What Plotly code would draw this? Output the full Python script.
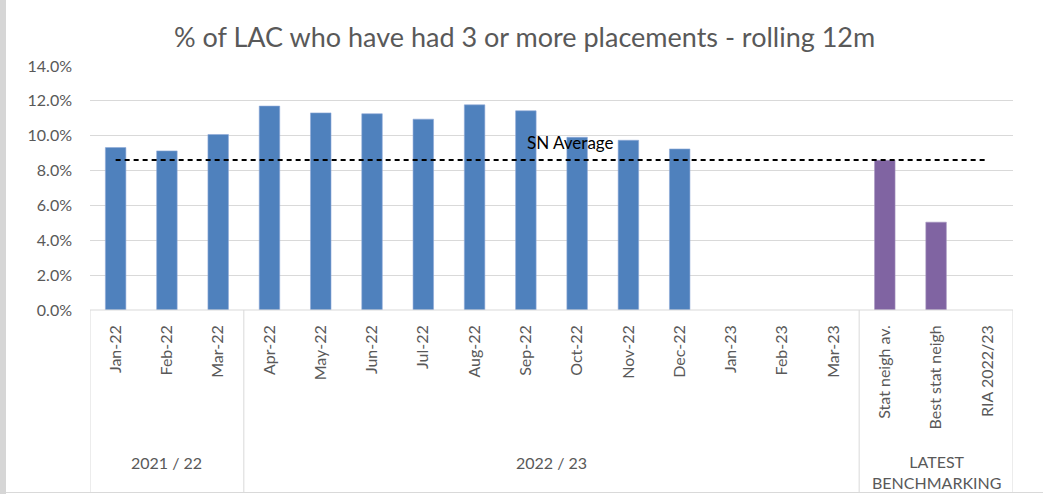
import plotly.graph_objects as go

# ---- data ----
months = ["Jan-22", "Feb-22", "Mar-22", "Apr-22", "May-22", "Jun-22", "Jul-22",
          "Aug-22", "Sep-22", "Oct-22", "Nov-22", "Dec-22", "Jan-23", "Feb-23", "Mar-23"]
month_values = [0.0932, 0.0913, 0.1007, 0.1170, 0.1131, 0.1126, 0.1095,
                0.1177, 0.1143, 0.0991, 0.0974, 0.0924, None, None, None]
bench_labels = ["Stat neigh av.", "Best stat neigh", "RIA 2022/23"]
bench_values = [0.0859, 0.0504, None]
sn_average = 0.086
groups = ["2021 / 22", "2022 / 23", "LATEST<br>BENCHMARKING"]
group_sizes = [3, 12, 3]
title_text = "% of LAC who have had 3 or more placements - rolling 12m"

categories = months + bench_labels

FONT = "Lato"
GREY_TXT = "#595959"
GRID = "#d9d9d9"

W, H = 1043, 494
L, R, T, B = 90, 30, 66, 184
plot_h = H - T - B
plot_w = W - L - R

fig = go.Figure()
fig.add_trace(go.Bar(x=months, y=month_values, marker_color="#4f81bd",
                     marker_line=dict(color="#8eaad8", width=0.6), width=0.4,
                     showlegend=False))
fig.add_trace(go.Bar(x=bench_labels, y=bench_values, marker_color="#8064a2",
                     marker_line=dict(color="#a593c0", width=0.6), width=0.4,
                     showlegend=False))
fig.add_trace(go.Scatter(x=categories, y=[sn_average] * len(categories), mode="lines",
                         line=dict(color="black", width=2, dash="5px,4px"),
                         showlegend=False, hoverinfo="skip"))

fig.add_annotation(x="Oct-22", y=sn_average, xref="x", yref="y", text="SN Average",
                   showarrow=False, yanchor="middle", yshift=18, xshift=-7,
                   font=dict(family=FONT, size=17, color="black"))

# group dividers and labels
shape_line = dict(color=GRID, width=1)
y_bottom = -(H - 1.5 - (H - B)) / plot_h
boundaries = [-0.5]
pos = -0.5
for s in group_sizes:
    pos += s
    boundaries.append(pos)
for bpos in boundaries:
    fig.add_shape(type="line", xref="x", yref="paper", x0=bpos, x1=bpos,
                  y0=0, y1=y_bottom, line=shape_line)
fig.add_shape(type="line", xref="x", yref="paper", x0=-0.5, x1=boundaries[-1],
              y0=0, y1=0, line=shape_line)
# chart border bottom and left strip
fig.add_shape(type="line", xref="paper", yref="paper", x0=(6 - L) / plot_w,
              x1=(W - L) / plot_w, y0=y_bottom, y1=y_bottom, line=shape_line)
fig.add_shape(type="rect", xref="paper", yref="paper", x0=-L / plot_w, x1=(6 - L) / plot_w,
              y0=-B / plot_h, y1=(plot_h + T) / plot_h, fillcolor="#d6d6d6",
              line=dict(width=0), layer="above")

start = 0
for g, s in zip(groups, group_sizes):
    center = start + (s - 1) / 2
    two = "<br>" in g
    fig.add_annotation(x=center, y=-((472 if two else 462) - (H - B)) / plot_h,
                       xref="x", yref="paper",
                       text=g, showarrow=False, yanchor="middle",
                       font=dict(family=FONT, size=16, color=GREY_TXT))
    start += s

fig.update_layout(
    width=W, height=H,
    margin=dict(l=L, r=R, t=T, b=B),
    paper_bgcolor="white", plot_bgcolor="white",
    barmode="overlay",
    title=dict(text=title_text, x=0.503, xanchor="center", xref="container",
               y=1 - 38 / H, yanchor="middle", yref="container",
               font=dict(family=FONT, size=27, color=GREY_TXT)),
    xaxis=dict(categoryorder="array", categoryarray=categories, type="category",
               range=[-0.5, len(categories) - 0.5], tickangle=-90, ticks="",
               showgrid=False, showline=False, zeroline=False, ticklabelstandoff=11,
               tickfont=dict(family=FONT, size=16, color=GREY_TXT)),
    yaxis=dict(range=[0, 0.14], dtick=0.02, tickformat=".1%", showgrid=True,
               gridcolor=GRID, gridwidth=1, zeroline=False, showline=False,
               ticks="", ticklabelstandoff=17,
               tickfont=dict(family=FONT, size=16, color=GREY_TXT)),
    font=dict(family=FONT),
)

fig.write_html("out.html", config={"displayModeBar": False},
               post_script="document.body.style.margin='0';")
